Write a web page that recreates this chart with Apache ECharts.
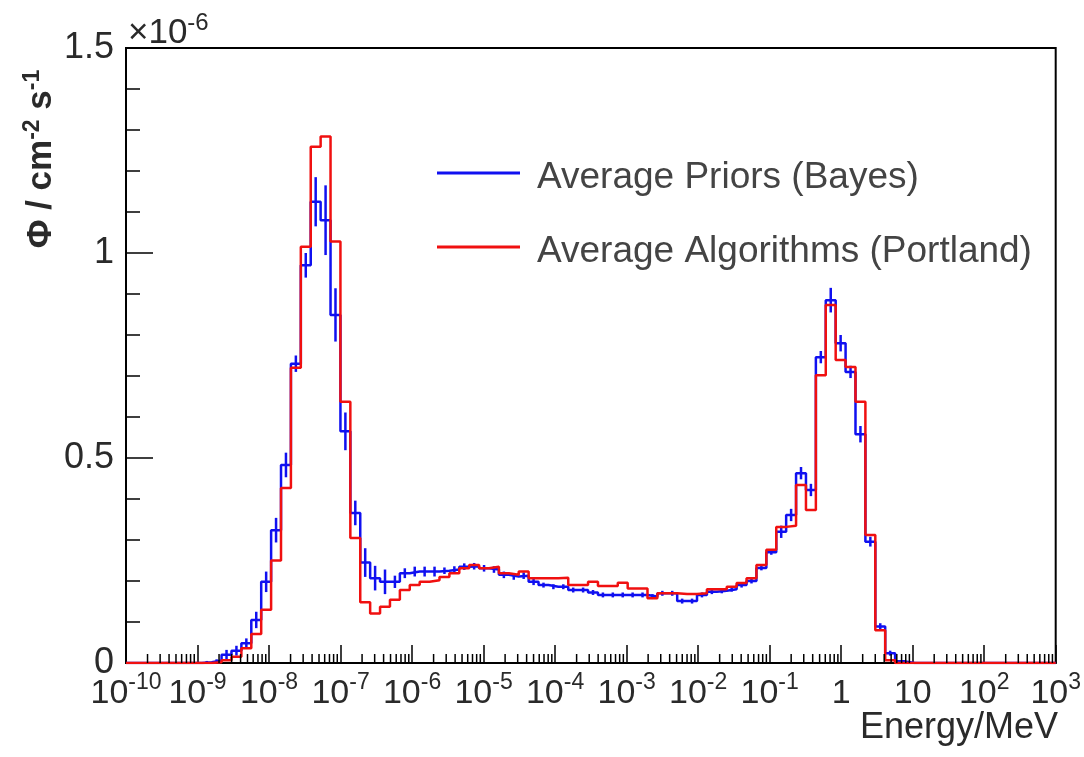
<!DOCTYPE html>
<html>
<head>
<meta charset="utf-8">
<script src="https://cdn.jsdelivr.net/npm/echarts@6/dist/echarts.min.js"></script>
<style>
html,body{margin:0;padding:0;background:#fff;}
#chart{width:1084px;height:757px;}
</style>
</head>
<body>
<div id="chart"></div>
<script>
// Histogram binning (log10 of energy in MeV)
const binStartLog = -9.91;
const binWidthLog = 0.1385;

// Average Priors (Bayes), flux in units of 1e-6 cm^-2 s^-1, one value per bin
const bayesValues = [
  0, 0, 0, 0, 0, 0, 0, 0.002, 0.006, 0.02,
  0.03, 0.048, 0.105, 0.198, 0.324, 0.483, 0.73, 0.97, 1.125, 1.08,
  0.849, 0.565, 0.366, 0.245, 0.207, 0.198, 0.198, 0.219, 0.223, 0.223,
  0.223, 0.225, 0.228, 0.235, 0.236, 0.231, 0.228, 0.215, 0.211, 0.213,
  0.198, 0.19, 0.186, 0.186, 0.178, 0.178, 0.172, 0.166, 0.166, 0.166,
  0.166, 0.166, 0.162, 0.17, 0.17, 0.151, 0.151, 0.166, 0.174, 0.176,
  0.18, 0.19, 0.2, 0.232, 0.27, 0.32, 0.361, 0.463, 0.422, 0.746,
  0.885, 0.78, 0.71, 0.558, 0.296, 0.089, 0.024, 0.004, 0, 0,
  0, 0, 0, 0, 0, 0, 0, 0, 0, 0,
  0, 0, 0
];
// Error of the Bayes average, per bin
const bayesErrors = [
  0, 0, 0, 0, 0, 0, 0, 0.003, 0.003, 0.012,
  0.012, 0.012, 0.02, 0.025, 0.03, 0.03, 0.02, 0.03, 0.06, 0.085,
  0.065, 0.046, 0.03, 0.035, 0.03, 0.03, 0.015, 0.012, 0.012, 0.012,
  0.012, 0.008, 0.008, 0.008, 0.008, 0.008, 0.008, 0.008, 0.008, 0.008,
  0.008, 0.006, 0.006, 0.006, 0.006, 0.006, 0.006, 0.006, 0.006, 0.006,
  0.006, 0.006, 0.006, 0.006, 0.006, 0.006, 0.006, 0.006, 0.006, 0.006,
  0.006, 0.006, 0.006, 0.006, 0.006, 0.015, 0.015, 0.015, 0.015, 0.015,
  0.03, 0.02, 0.015, 0.02, 0.012, 0.008, 0.006, 0.002, 0, 0,
  0, 0, 0, 0, 0, 0, 0, 0, 0, 0,
  0, 0, 0
];
// Average Algorithms (Portland)
const portlandValues = [
  0, 0, 0, 0, 0, 0, 0, 0, 0.002, 0.007,
  0.015, 0.036, 0.071, 0.13, 0.25, 0.427, 0.72, 1.015, 1.259, 1.284,
  1.028, 0.637, 0.305, 0.148, 0.121, 0.137, 0.154, 0.178, 0.19, 0.198,
  0.202, 0.21, 0.219, 0.231, 0.239, 0.231, 0.235, 0.219, 0.215, 0.223,
  0.207, 0.207, 0.207, 0.208, 0.19, 0.19, 0.198, 0.188, 0.188, 0.196,
  0.182, 0.182, 0.158, 0.17, 0.17, 0.168, 0.168, 0.17, 0.18, 0.18,
  0.186, 0.195, 0.207, 0.239, 0.276, 0.332, 0.335, 0.434, 0.373, 0.702,
  0.873, 0.739, 0.722, 0.637, 0.312, 0.08, 0.007, 0, 0, 0,
  0, 0, 0, 0, 0, 0, 0, 0, 0, 0,
  0, 0, 0
];

const seriesNames = ['Average Priors (Bayes)', 'Average Algorithms (Portland)'];
const xMinExp = -10, xMaxExp = 3;
const yTickValues = [0, 0.5, 1, 1.5];

const FONT = 'Liberation Sans, Arial, Helvetica, sans-serif';
const TXT = '#2a2a2a';
const BLUE = '#1010f0', RED = '#f01010';
// legend sample: a thin line sitting a little above the text centre
const LEGEND_ICON = 'path://M0,0L83,0L83,3L0,3Z M0,13L0.01,13L0.01,13Z';

function edge(k) { return Math.pow(10, binStartLog + k * binWidthLog); }
function stepData(vals) {
  const pts = [[Math.pow(10, xMinExp), 0]];
  for (let k = 0; k < vals.length; k++) pts.push([edge(k), vals[k]]);
  pts.push([edge(vals.length), vals[vals.length - 1]]);
  pts.push([Math.pow(10, xMaxExp), 0]);
  return pts;
}
const errData = [];
bayesValues.forEach((v, k) => {
  if (bayesErrors[k] > 0) errData.push([Math.pow(10, binStartLog + (k + 0.5) * binWidthLog), v, bayesErrors[k]]);
});
const minorTicks = [];
for (let e = xMinExp; e < xMaxExp; e++) for (let m = 2; m <= 9; m++) minorTicks.push([m * Math.pow(10, e)]);

const chart = echarts.init(document.getElementById('chart'), null, {renderer: 'canvas'});
chart.setOption({
  backgroundColor: '#fff',
  animation: false,
  grid: {left: 126, right: 24, top: 48, bottom: 94, show: true, borderColor: '#000', borderWidth: 2, backgroundColor: 'transparent'},
  legend: {
    data: [{name: seriesNames[0], icon: LEGEND_ICON}, {name: seriesNames[1], icon: LEGEND_ICON}],
    orient: 'vertical',
    left: 437, top: 158, padding: 0,
    itemWidth: 83, itemHeight: 13,
    itemGap: 34,
    textStyle: {fontSize: 37, fontFamily: FONT, color: '#444', lineHeight: 40, padding: [0, 0, 0, 12]}
  },
  xAxis: {
    type: 'log', logBase: 10,
    min: Math.pow(10, xMinExp), max: Math.pow(10, xMaxExp),
    interval: 1,
    axisLine: {lineStyle: {color: '#000', width: 2}},
    axisTick: {inside: true, length: 18, lineStyle: {color: '#000', width: 1.5}},
    splitLine: {show: false},
    axisLabel: {
      interval: 0, hideOverlap: false, showMinLabel: true, showMaxLabel: true, margin: 8,
      formatter: function (v) {
        const e = Math.round(Math.log10(v));
        if (e === 0) return '{b|1}';
        if (e === 1) return '{b|10}';
        return '{b|10}{s|' + (e < 0 ? '-' : '') + Math.abs(e) + '}';
      },
      rich: {
        b: {fontSize: 34, fontFamily: FONT, color: TXT, lineHeight: 40, verticalAlign: 'bottom'},
        s: {fontSize: 23, fontFamily: FONT, color: TXT, lineHeight: 23, verticalAlign: 'top'}
      }
    }
  },
  yAxis: {
    type: 'value', min: 0, max: 1.5, interval: 0.5,
    axisLine: {lineStyle: {color: '#000', width: 2}},
    axisTick: {inside: true, length: 27, lineStyle: {color: '#000', width: 1.5}},
    minorTick: {show: true, splitNumber: 5, length: 14, lineStyle: {color: '#000', width: 1.5}},
    splitLine: {show: false},
    axisLabel: {fontSize: 36, fontFamily: FONT, color: TXT, margin: 12,
      formatter: function (v) { return String(yTickValues.find(t => Math.abs(t - v) < 1e-9) ?? v); }}
  },
  graphic: [
    {type: 'text', x: 128, y: 31, style: {text: '{b|×10}{s|-6}', verticalAlign: 'middle',
      rich: {b: {fontSize: 35, fontFamily: FONT, fill: TXT, lineHeight: 40, verticalAlign: 'bottom'},
             s: {fontSize: 24, fontFamily: FONT, fill: TXT, lineHeight: 24, verticalAlign: 'top'}}}},
    {type: 'text', x: 40, y: 159, rotation: Math.PI / 2,
      style: {text: '{b|Φ / cm}{s|-2}{b| s}{s|-1}', align: 'center', verticalAlign: 'middle',
      rich: {b: {fontSize: 35, fontWeight: 'bold', fontFamily: FONT, fill: TXT, lineHeight: 38, verticalAlign: 'bottom'},
             s: {fontSize: 23, fontWeight: 'bold', fontFamily: FONT, fill: TXT, lineHeight: 23, verticalAlign: 'top'}}}},
    {type: 'text', x: 1058, y: 728, style: {text: 'Energy/MeV', align: 'right', verticalAlign: 'middle',
      fontSize: 36, fontFamily: FONT, fill: TXT}}
  ],
  series: [
    {name: seriesNames[0], type: 'line', step: 'end', data: stepData(bayesValues), symbol: 'none',
      lineStyle: {color: BLUE, width: 2.5}, itemStyle: {color: BLUE}, z: 3},
    {name: 'err', type: 'custom', data: errData, z: 4, silent: true,
      renderItem: function (params, api) {
        const x = api.value(0), v = api.value(1), e = api.value(2);
        const p1 = api.coord([x, Math.max(0, v - e)]);
        const p2 = api.coord([x, v + e]);
        return {type: 'line', shape: {x1: p1[0], y1: p1[1], x2: p2[0], y2: p2[1]},
          style: {stroke: BLUE, lineWidth: 2.5}};
      }},
    {name: seriesNames[1], type: 'line', step: 'end', data: stepData(portlandValues), symbol: 'none',
      lineStyle: {color: RED, width: 2.5}, itemStyle: {color: RED}, z: 5},
    {name: 'minor', type: 'custom', data: minorTicks, z: 6, silent: true, clip: false,
      renderItem: function (params, api) {
        const p = api.coord([api.value(0), 0]);
        return {type: 'line', shape: {x1: p[0], y1: p[1], x2: p[0], y2: p[1] - 9},
          style: {stroke: '#000', lineWidth: 1.5}};
      }}
  ]
});
</script>
</body>
</html>
